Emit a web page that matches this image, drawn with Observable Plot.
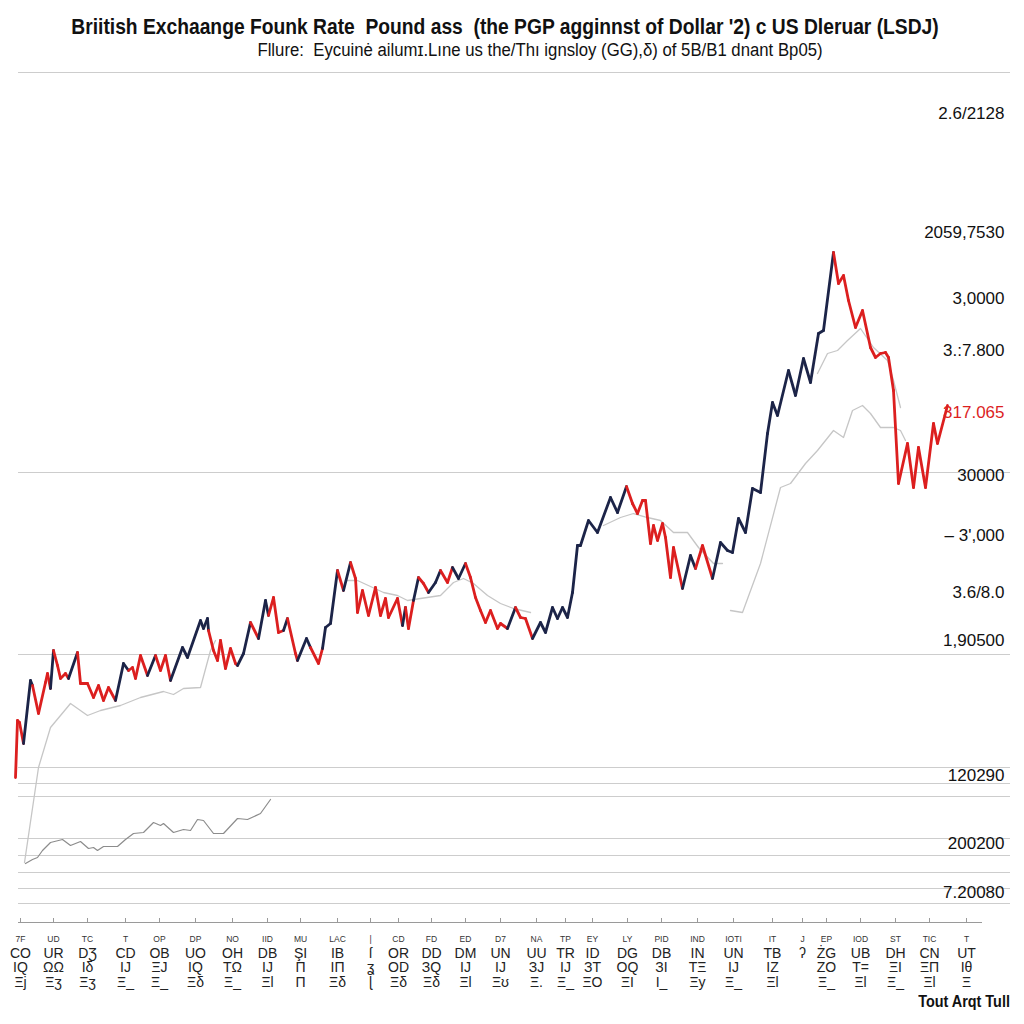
<!DOCTYPE html>
<html><head><meta charset="utf-8">
<script src="https://cdn.jsdelivr.net/npm/d3@7"></script>
<script src="https://cdn.jsdelivr.net/npm/@observablehq/plot@0.6"></script>
<style>
body{margin:0;background:#fff;width:1024px;height:1024px;overflow:hidden;position:relative;font-family:"Liberation Sans",Arial,sans-serif}
#head{height:64px;position:relative}
#title{position:absolute;top:14px;left:0;width:1010px;text-align:center;font:bold 22px "Liberation Sans",Arial,sans-serif;color:#111;white-space:nowrap;transform:scaleX(0.875);transform-origin:505px 0}
#sub{position:absolute;top:40px;left:0;width:1080px;text-align:center;font:18px "Liberation Sans",Arial,sans-serif;color:#111;white-space:nowrap;transform:scaleX(0.93);transform-origin:540px 0}
#cap{position:absolute;right:14px;top:993px;font:bold 16px "Liberation Sans",Arial,sans-serif;color:#111;transform:scaleX(0.9);transform-origin:right top}
#chart svg{display:block}
</style></head>
<body>
<div id="head">
  <div id="title">Briitish Exchaange Founk Rate&nbsp; Pound ass&nbsp; (the PGP agginnst of Dollar '2) c US Dleruar (LSDJ)</div>
  <div id="sub">Fllure:&nbsp; Eycuinė ailumɪ.Lıne us the/Thı ignsloy (GG),δ) of 5B/B1 dnant Bp05)</div>
</div>
<div id="chart"></div>
<div id="cap">Tout Arqt Tull</div>
<script>
// ---- main rate series (x = week index, y = rate index) ----
const mainX = [15,17,19,23,30,32,38,45,47,50,
  53,57,60,65,68,77,80,87,93,98,
  103,108,115,123,128,132,135,140,147,155,
  160,165,170,182,187,200,203,207,208,213,
  217,220,225,230,235,237,243,250,258,265,
  268,273,278,283,287,295,297,306,310,318,
  322,325,330,337,343,350,355,357,362,368,
  375,380,385,388,397,402,405,408,413,418,
  423,428,435,440,447,452,458,465,470,475,
  480,485,490,497,500,507,515,520,525,532,
  540,545,552,557,562,567,572,577,580,588,
  597,610,617,626,632,637,642,645,650,653,
  657,662,665,670,673,682,690,695,702,712,
  720,727,732,738,745,752,760,767,772,777,
  788,795,803,810,818,823,833,838,843,848,
  855,862,870,875,880,885,888,893,898,907,
  913,918,925,933,937,947];
const mainY = [141,198,196,175,238,233,205,236,245,230,
  268,253,240,245,240,266,235,235,221,233,
  218,231,218,255,248,251,240,263,243,263,
  248,263,238,271,261,298,290,300,288,268,
  258,278,250,270,255,253,265,296,280,318,
  303,321,286,288,300,265,258,280,271,255,
  270,291,295,348,328,356,340,306,328,303,
  331,303,320,301,320,293,311,290,318,341,
  335,326,336,348,336,351,340,355,341,321,
  308,296,308,290,295,290,311,301,300,280,
  296,286,311,300,311,301,326,373,373,398,
  386,421,406,432,415,405,418,418,375,393,
  378,395,381,341,371,330,363,350,373,340,
  376,368,366,400,386,430,426,485,516,503,
  548,523,560,536,585,588,666,635,643,618,
  591,608,571,561,565,566,561,528,435,475,
  431,471,431,495,475,513];
const mainTrend = ["-","d","d","d","u","u","d","d","d","d",
  "u","d","d","d","d","u","d","d","d","d",
  "d","d","d","u","u","d","d","d","d","u",
  "d","d","d","u","u","u","u","u","u","d",
  "d","d","d","d","d","d","u","u","d","u",
  "u","d","d","d","u","d","d","u","u","d",
  "d","u","u","u","d","u","d","d","d","d",
  "d","d","d","d","d","d","u","d","d","u",
  "d","d","u","u","d","d","u","u","d","d",
  "d","d","d","d","d","d","u","d","d","d",
  "u","u","u","u","u","u","u","u","u","u",
  "u","u","u","u","d","d","d","d","d","d",
  "d","d","d","d","d","d","u","u","d","d",
  "u","u","u","u","u","u","u","u","u","u",
  "u","u","u","u","u","u","u","d","d","d",
  "d","d","d","d","d","d","d","d","d","d",
  "d","d","d","d","d","d"];

// ---- light grey moving average (several pieces) ----
const maX = [24,38,50,60,70,87,100,120,140,163,173,183,200,210,215,
  345,357,383,397,407,420,440,453,463,473,487,500,513,530,
  603,620,633,647,660,673,687,698,713,722,
  730,742,760,780,790,805,817,833,843,852,862,870,880,893,900,905,
  817,827,837,847,860,873,887,893,900];
const maY = [56,151,191,203,215,203,208,213,221,227,224,230,231,268,278,
  338,338,326,323,318,320,323,336,340,335,323,315,310,306,
  393,401,405,401,398,386,386,371,355,355,
  308,306,355,431,435,455,468,488,481,508,513,505,491,491,488,478,
  545,565,568,578,590,571,558,538,511];
const maPiece = ["A","A","A","A","A","A","A","A","A","A","A","A","A","A","A",
  "B","B","B","B","B","B","B","B","B","B","B","B","B","B",
  "C","C","C","C","C","C","C","C","C","C",
  "D","D","D","D","D","D","D","D","D","D","D","D","D","D","D","D",
  "E","E","E","E","E","E","E","E","E"];

// ---- darker grey low series ----
const lowX = [25,32,37,42,50,62,70,80,88,93,97,103,117,125,133,143,153,160,163,173,183,190,197,203,213,223,237,247,260,270];
const lowY = [55,59,61,68,76,79,73,77,70,71,68,72,72,79,85,86,96,93,95,86,89,88,99,98,85,85,100,99,105,119];

// ---- axes ----
const yTickValues = [805,686,620,568,506,443,383,326,278,143,75,26];
const yTickLabels = ["2.6/2128","2059,7530","3,0000","3.:7.800","317.065","30000","– 3',000","3.6/8.0","1,90500","120290","200200","7.20080"];
const highlightLabel = "317.065";
const gridValues = [846,446,264,151,135,122,80,63,46,30,15];
const axisLevel = -4;
const tickTop = 0;
const xTickValues = [20,53,87,125,159,195,232,267,300,337,370,398,431,465,500,536,565,592,627,661,697,733,772,802,826,860,895,929,966];
const xRow1 = ["7F","UD","TC","T","OP","DP","NO","IID","MU","LAC","|","CD","FD","ED","D7","NA","TP","EY","LY","PID","IND","IOTI","IT","J","EP","IOD","ST","TIC","T"];
const xRow2 = ["CO","UR","DƷ","CD","OB","UO","OH","DB","ŞI","IB","ſ","OR","DD","DM","UN","UU","TR","ID","DG","DB","IN","UN","TB","ʔ","ŻG","UB","DH","CN","UT"];
const xRow3 = ["IQ","ΩΩ","Iδ","IJ","ΞJ","IQ","TΩ","IJ","Π","IΠ","ʓ","OD","ЗQ","IJ","IJ","ЗJ","IJ","ЗT","OQ","ЗI","TΞ","IJ","IZ","","ZO","T=","ΞI","ΞΠ","Iθ"];
const xRow4 = ["Ξj","Ξʒ","Ξʒ","Ξ_","Ξ_","Ξδ","Ξ_","Ξl","Π","Ξδ","ɭ","Ξδ","Ξδ","Ξl","Ξʊ","Ξ.","Ξ_","ΞO","ΞI","I_","Ξy","Ξ_","Ξl","","Ξ_","Ξl","Ξ_","Ξl","Ξ"];

const NAVY = "#1c2448", RED = "#dc1f1f";

const segs = [];
for (let i = 1; i < mainX.length; i++) {
  segs.push({x1: mainX[i-1], y1: mainY[i-1], x2: mainX[i], y2: mainY[i], trend: mainTrend[i]});
}
const ma = maX.map((x, i) => ({x, y: maY[i], g: maPiece[i]}));
const low = lowX.map((x, i) => ({x, y: lowY[i]}));
const yTicks = yTickValues.map((v, i) => ({v, label: yTickLabels[i]}));
const xTicks = xTickValues.map((x, i) => ({x, r1: xRow1[i], rest: [xRow2[i], xRow3[i], xRow4[i]].join("\n")}));

const chart = Plot.plot({
  width: 1024, height: 960,
  marginTop: 16, marginBottom: 102, marginLeft: 18, marginRight: 42,
  x: {domain: [18, 982], axis: null},
  y: {domain: [-4, 838], axis: null},
  color: {domain: ["u", "d"], range: [NAVY, RED]},
  style: {background: "#fff", fontFamily: "'Liberation Sans', Arial, sans-serif"},
  marks: [
    Plot.ruleY(gridValues, {stroke: "#cdcdcd", strokeWidth: 1, insetRight: -28}),
    Plot.ruleY([axisLevel], {stroke: "#9a9a9a", strokeWidth: 1}),
    Plot.ruleX(xTickValues, {y1: axisLevel, y2: tickTop, stroke: "#9a9a9a"}),
    Plot.line(low, {x: "x", y: "y", stroke: "#8c8c8c", strokeWidth: 1.2}),
    Plot.line(ma, {x: "x", y: "y", z: "g", stroke: "#c6c6c6", strokeWidth: 1.3}),
    Plot.link(segs, {x1: "x1", y1: "y1", x2: "x2", y2: "y2", stroke: "trend", strokeWidth: 2.8, strokeLinecap: "round"}),
    Plot.text(yTicks.filter(d => d.label !== highlightLabel), {y: "v", text: "label", frameAnchor: "right", textAnchor: "end", dx: 22, fontSize: 17, fill: "#111"}),
    Plot.text(yTicks.filter(d => d.label === highlightLabel), {y: "v", text: "label", frameAnchor: "right", textAnchor: "end", dx: 22, fontSize: 17, fill: RED}),
    Plot.text(xTicks, {x: "x", text: "r1", frameAnchor: "bottom", dy: 19, fontSize: 8.5, fill: "#333"}),
    Plot.text(xTicks, {x: "x", text: "rest", frameAnchor: "bottom", lineAnchor: "top", dy: 25, fontSize: 14, lineHeight: 1.03, fill: "#222"})
  ]
});
document.getElementById("chart").appendChild(chart);
</script>
</body></html>
